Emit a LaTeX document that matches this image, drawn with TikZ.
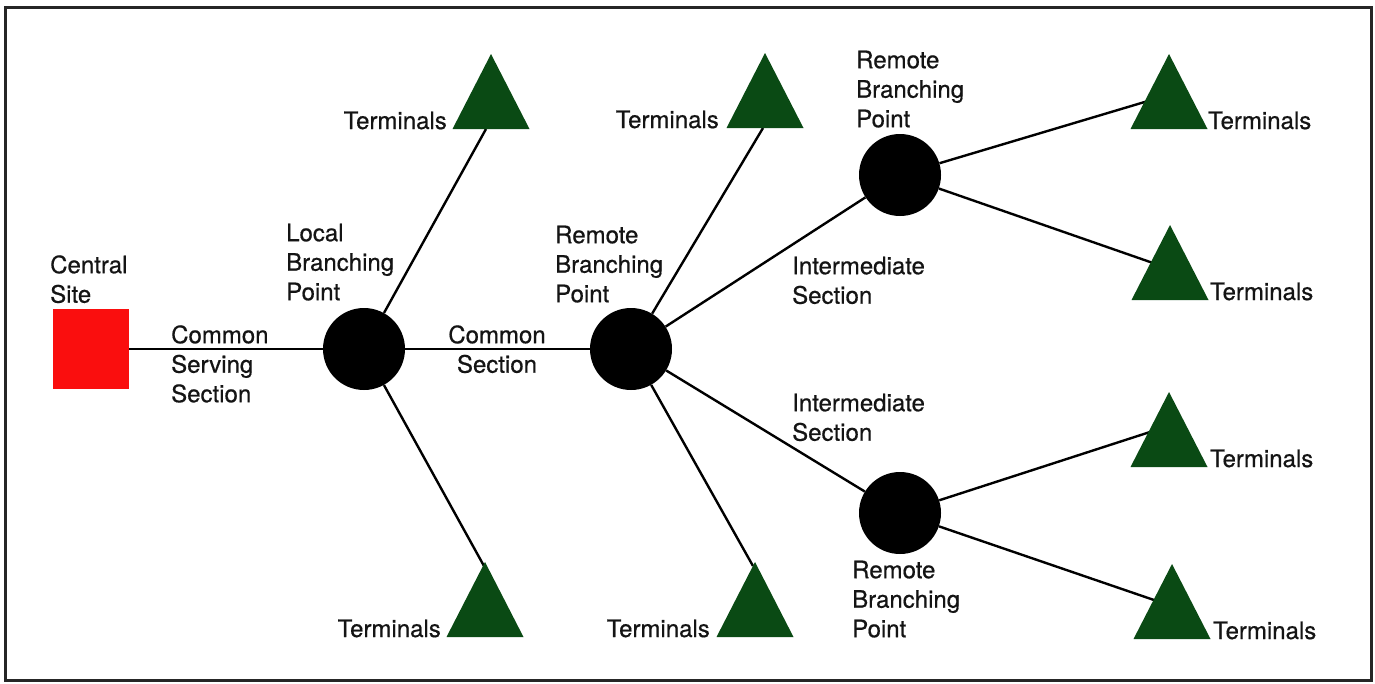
\documentclass[tikz,border=0pt]{standalone}
\usepackage{fontspec}
\setmainfont{TeX Gyre Heros}
\newfontfamily\heavyheros{TeX Gyre Heros}[FakeBold=0.6]
\definecolor{termgreen}{RGB}{10,74,20}
\definecolor{sitered}{RGB}{250,14,14}
\newcommand\lblfont{\heavyheros\fontsize{24}{29.5}\selectfont}
\tikzset{
  lbl/.style={inner sep=0pt, anchor=north west, align=left, font=\lblfont, text=black!92},
  lblc/.style={lbl, anchor=north, align=center},
  term/.style={inner sep=0pt, font=\lblfont, text=black!92},
  branch/.style={circle, fill=black, minimum size=82pt, inner sep=0pt},
  site/.style={rectangle, fill=sitered, minimum width=76pt, minimum height=80pt, inner sep=0pt},
  link/.style={line width=2.4pt, black},
  terminal/.pic={\fill[termgreen] (-38.5,0) -- (0,-75) -- (38.5,0) -- cycle;}
}
\begin{document}
\begin{tikzpicture}[x=1pt,y=-1pt]
\useasboundingbox (0,0) rectangle (1375,683);
\draw[line width=3pt, black!85] (5,7) rectangle (1371,680);

% main nodes
\node[site] (cs) at (91,349) {};
\node[branch] (lb) at (364,349) {};
\node[branch] (rb) at (631,349) {};
\node[branch] (rt) at (900,175) {};
\node[branch] (rbm) at (900,513) {};

% connector ends at terminals
\coordinate (t1) at (486,129);
\coordinate (t2) at (763,128);
\coordinate (t3) at (484,566);
\coordinate (t4) at (753,566);
\coordinate (t5) at (1148,101);
\coordinate (t6) at (1153,263);
\coordinate (t7) at (1150,432);
\coordinate (t8) at (1154,600);

% connectors
\draw[link] (cs) -- (lb);
\draw[link] (lb) -- (rb);
\draw[link] (lb) -- (t1);
\draw[link] (lb) -- (t3);
\draw[link] (rb) -- (t2);
\draw[link] (rb) -- (t4);
\draw[link] (rb) -- (rt);
\draw[link] (rb) -- (rbm);
\draw[link] (rt) -- (t5);
\draw[link] (rt) -- (t6);
\draw[link] (rbm) -- (t7);
\draw[link] (rbm) -- (t8);

% terminals
\pic at (491,129) {terminal};
\pic at (765,128) {terminal};
\pic at (485,637) {terminal};
\pic at (755,637) {terminal};
\pic at (1169,129) {terminal};
\pic at (1170,300) {terminal};
\pic at (1169,467) {terminal};
\pic at (1172,639) {terminal};

% terminal labels
\node[term, anchor=base east] (lt1) at (447,129) {Terminals};
\node[term, anchor=base east] (lt2) at (719,128) {Terminals};
\node[term, anchor=base east] (lt3) at (441,637) {Terminals};
\node[term, anchor=base east] (lt4) at (710,637) {Terminals};
\node[term, anchor=base west] (lt5) at (1208,129) {Terminals};
\node[term, anchor=base west] (lt6) at (1210,300) {Terminals};
\node[term, anchor=base west] (lt7) at (1210,467) {Terminals};
\node[term, anchor=base west] (lt8) at (1213,639) {Terminals};

% other labels
\node[lbl] (lcs) at (50,252.35) {\strut Central\\\strut Site};
\node[lbl] (lcss) at (171,322.35) {\strut Common\\\strut Serving\\\strut Section};
\node[lbl] (llb) at (286,220.35) {\strut Local\\\strut Branching\\\strut Point};
\node[lblc] (lcom) at (497,322.35) {\strut Common\\\strut Section};
\node[lbl] (lrb) at (555,222.35) {\strut Remote\\\strut Branching\\\strut Point};
\node[lbl] (lrt) at (856,47.35) {\strut Remote\\\strut Branching\\\strut Point};
\node[lbl] (lis1) at (792,253.35) {\strut Intermediate\\\strut Section};
\node[lbl] (lis2) at (792,390.35) {\strut Intermediate\\\strut Section};
\node[lbl] (lrbm) at (852,557.35) {\strut Remote\\\strut Branching\\\strut Point};
\end{tikzpicture}
\end{document}
